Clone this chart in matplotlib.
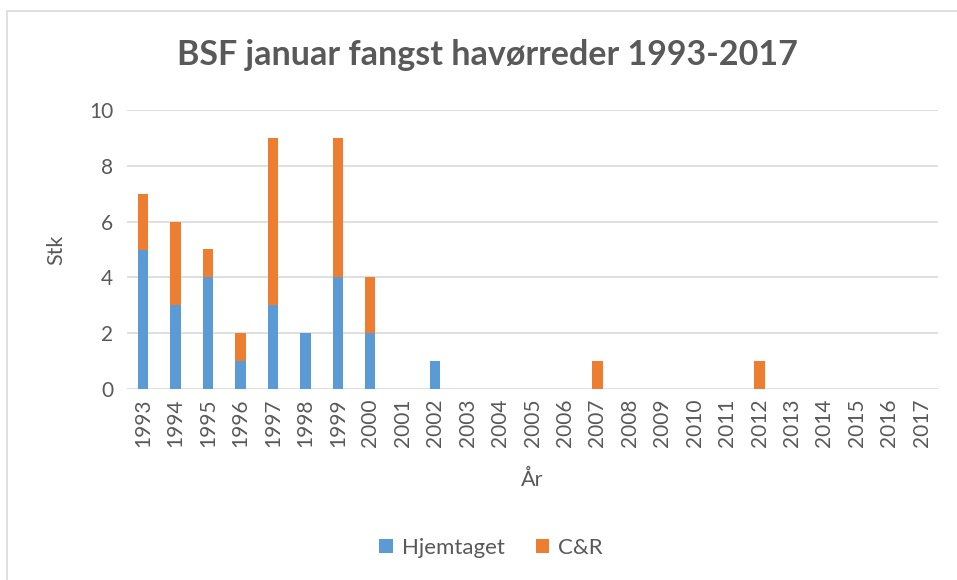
import numpy as np
import matplotlib.pyplot as plt
from matplotlib.patches import Rectangle

# data
years = [str(y) for y in range(1993, 2018)]
hjemtaget = [5, 3, 4, 1, 3, 2, 4, 2, 0, 1, 0, 0, 0, 0, 0, 0, 0, 0, 0, 0, 0, 0, 0, 0, 0]
cr = [2, 3, 1, 1, 6, 0, 5, 2, 0, 0, 0, 0, 0, 0, 1, 0, 0, 0, 0, 1, 0, 0, 0, 0, 0]

plt.rcParams['font.family'] = ['Lato', 'DejaVu Sans']
txt = '#595959'
blue = '#5B9BD5'
orange = '#ED7D31'

fig = plt.figure(figsize=(9.57, 5.8), dpi=100)
# chart border
fig.patches.append(Rectangle((7 / 957, -0.1), 1.2, 1 - 11 / 580 + 0.1, transform=fig.transFigure,
                             fill=False, edgecolor='#D9D9D9', linewidth=1.2))

ax = fig.add_axes([127 / 957, 1 - 389 / 580, (938 - 127) / 957, (389 - 110) / 580])
x = np.arange(len(years))
ax.bar(x, hjemtaget, width=0.32, color=blue, label='Hjemtaget', zorder=3)
ax.bar(x, cr, width=0.32, bottom=hjemtaget, color=orange, label='C&R', zorder=3)

ax.set_xlim(-0.5, len(years) - 0.5)
ax.set_ylim(0, 10)
ax.set_yticks(range(0, 11, 2))
ax.set_xticks(x)
ax.set_xticklabels(years, rotation=90)
ax.grid(axis='y', color='#D9D9D9', linewidth=1.2, zorder=0)
for s in ax.spines.values():
    s.set_visible(False)
ax.tick_params(length=0, labelsize=15, colors=txt, pad=10)
ax.tick_params(axis='x', pad=7)

ax.set_ylabel('Stk', fontsize=15.5, color=txt, labelpad=16)
ax.set_xlabel('År', fontsize=15.5, color=txt, labelpad=16)

fig.text(487 / 957, 1 - 55 / 580, 'BSF januar fangst havørreder 1993-2017', ha='center', va='center',
         fontsize=24.5, fontweight='bold', color=txt)

fig.legend(loc='center', bbox_to_anchor=(491 / 957, 1 - 548 / 580), ncol=2, frameon=False,
           fontsize=16, labelcolor=txt, handlelength=0.6, handleheight=0.6, handletextpad=0.4,
           columnspacing=1.4)

fig.savefig('out.png', dpi=100)
